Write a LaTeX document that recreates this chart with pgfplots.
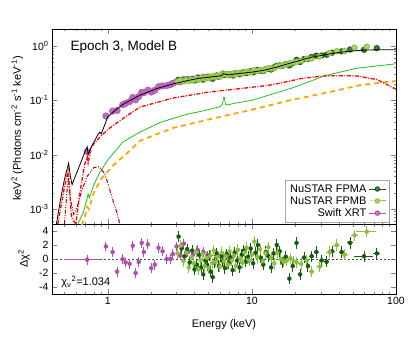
\documentclass[border=0pt]{standalone}
\usepackage{fontspec}
\setmainfont{Liberation Sans}
\usepackage{pgfplots}
\pgfplotsset{compat=1.18}
\definecolor{fpma}{HTML}{145A14}
\definecolor{fpmb}{HTML}{8CBF3C}
\definecolor{xrt}{HTML}{B04EB0}
\definecolor{mgreen}{HTML}{1EC01E}
\definecolor{morange}{HTML}{FFA500}
\definecolor{mdred}{HTML}{B40000}
\begin{document}
\begin{tikzpicture}
\useasboundingbox (-52pt,-52pt) rectangle (363pt,294pt);
% residual panel
\begin{axis}[at={(0pt,0pt)}, anchor=south west,
  scale only axis, width=344pt, height=70pt,
  xmode=log, xmin=0.41, xmax=100,
  tick align=inside, major tick length=5pt, minor tick length=2.5pt,
  axis line style={line width=0.8pt},
  xtick={1,10,100},
  minor xtick={0.5,0.6,0.7,0.8,0.9,2,3,4,5,6,7,8,9,20,30,40,50,60,70,80,90},
  tick label style={font=\fontsize{10.5}{12}\selectfont},
  label style={font=\fontsize{11}{13}\selectfont},
  ymin=-5, ymax=5, ytick={-4,-2,0,2,4}, yticklabels={-4,-2,0,2,4},
  xticklabels={1,10,100},
  xlabel={Energy (keV)},
  xlabel style={at={(axis description cs:0.5,-0.44)}, anchor=center},
  ylabel={Δχ\textsuperscript{2}},
  ylabel style={at={(axis description cs:-0.081,0.5)}, anchor=center},
]
\addplot[gray!60!black, line width=1pt, dash pattern=on 2pt off 2pt, forget plot] coordinates {(0.41,0) (100,0)};
% Swift XRT
\addplot[xrt, only marks, mark=none, forget plot,
    error bars/.cd, x dir=both, x explicit, y dir=both, y explicit,
    error mark=none, error bar style={line width=1pt}]
  table[x=x, y=y, x error plus=xp, x error minus=xm, y error=ey] {
x y xp xm ey
0.72 -0.1 0.20 0.22 0.7
};
\addplot[xrt, only marks, mark=none, forget plot,
    error bars/.cd, x dir=both, x explicit, y dir=both, y explicit,
    error mark=none, error bar style={line width=1pt}]
  table[x=x, y=y, x error=ex, y error=ey] {
x y ex ey
0.97 1.8 0.03 0.7
1.08 1.0 0.03 0.7
1.16 -1.8 0.03 0.7
1.27 0.0 0.03 0.7
1.33 -0.5 0.03 0.7
1.42 -0.7 0.03 0.7
1.49 1.9 0.03 0.7
1.56 -2.0 0.03 0.7
1.64 -0.4 0.04 0.7
1.72 2.3 0.04 0.7
1.78 1.0 0.04 0.7
1.90 2.1 0.04 0.7
2.00 -1.3 0.05 0.7
2.12 -0.8 0.05 0.7
2.25 1.6 0.05 0.7
2.40 1.1 0.06 0.7
2.57 0.0 0.07 0.7
2.73 0.0 0.07 0.7
2.83 0.7 0.07 0.7
3.00 1.8 0.08 0.7
3.17 0.5 0.08 0.7
3.37 2.2 0.09 0.7
3.60 1.0 0.10 0.7
3.90 0.6 0.12 0.7
4.20 1.3 0.15 0.7
4.60 1.0 0.18 0.7
4.90 0.5 0.2 0.7
5.70 0.5 0.6 0.7
6.30 0.5 0.35 0.7
7.00 0.2 0.4 0.7
};
% FPMA
\addplot[fpma, only marks, mark=none, forget plot,
    error bars/.cd, x dir=both, x explicit, y dir=both, y explicit,
    error mark=none, error bar style={line width=1pt}]
  table[x=x, y=y, x error=ex, y error=ey] {
x y ex ey
3.1 3.2 0.07 0.8
3.25 1.5 0.07 0.8
3.4 0.4 0.07 0.8
3.55 1.4 0.07 0.8
3.7 -0.5 0.07 0.8
3.85 1.2 0.07 0.8
4.0 -1.5 0.07 0.8
4.15 -0.8 0.07 0.8
4.3 0.6 0.07 0.8
4.45 -1.2 0.07 0.8
4.6 -2.2 0.07 0.8
4.75 -0.2 0.07 0.8
4.9 -0.9 0.07 0.8
5.05 0.5 0.07 0.8
5.2 -1.8 0.07 0.8
5.35 -2.6 0.07 0.8
5.5 -0.5 0.08 0.8
5.7 0.8 0.1 0.8
5.9 -1.0 0.1 0.8
6.1 0.4 0.1 0.8
6.3 -0.3 0.1 0.8
6.5 -1.3 0.1 0.8
6.7 0.7 0.1 0.8
6.9 -0.6 0.1 0.8
7.1 0.2 0.12 0.8
7.35 -1.6 0.12 0.8
7.6 0.9 0.12 0.8
7.9 -0.2 0.15 0.8
8.2 -1.2 0.15 0.8
8.5 0.6 0.15 0.8
8.8 1.2 0.15 0.8
9.1 -0.4 0.15 0.8
9.4 0.3 0.2 0.8
9.8 1.5 0.2 0.8
10.2 -0.6 0.2 0.8
10.6 0.9 0.25 0.8
11.0 2.0 0.25 0.8
11.5 0.2 0.25 0.8
12.0 -0.8 0.3 0.8
12.5 1.0 0.3 0.8
13.0 0.4 0.3 0.8
13.6 -1.2 0.3 0.8
14.2 0.8 0.35 0.8
14.9 2.0 0.35 0.8
15.6 1.1 0.4 0.8
16.3 -0.5 0.4 0.8
17.2 0.3 0.45 0.8
18.2 -2.8 0.5 0.8
19.2 -1.0 0.5 0.8
20.4 2.3 0.6 0.8
21.6 -2.2 0.7 0.8
23.0 0.2 0.8 0.8
24.5 -1.0 0.9 0.8
26.0 0.4 1.0 0.8
28.0 1.0 1.2 0.8
30.5 -0.2 1.4 0.8
33.0 -0.4 1.5 0.8
36.0 1.1 1.8 0.8
42.0 1.0 2.0 0.8
48.0 2.3 2.5 0.8
60.0 0.4 9.0 0.8
73.6 0.8 4.0 0.8
};
% FPMB
\addplot[fpmb, only marks, mark=none, forget plot,
    error bars/.cd, x dir=both, x explicit, y dir=both, y explicit,
    error mark=none, error bar style={line width=1pt}]
  table[x=x, y=y, x error=ex, y error=ey] {
x y ex ey
3.05 0.8 0.07 0.8
3.2 1.9 0.07 0.8
3.35 -0.3 0.07 0.8
3.5 0.9 0.07 0.8
3.65 -1.2 0.07 0.8
3.8 0.3 0.07 0.8
3.95 -0.6 0.07 0.8
4.1 1.0 0.07 0.8
4.25 -1.5 0.07 0.8
4.4 -0.2 0.07 0.8
4.55 0.7 0.07 0.8
4.7 -1.0 0.07 0.8
4.85 0.2 0.07 0.8
5.0 -1.3 0.07 0.8
5.15 0.5 0.07 0.8
5.3 -0.6 0.07 0.8
5.45 1.2 0.07 0.8
5.6 -0.4 0.08 0.8
5.8 0.3 0.1 0.8
6.0 -1.1 0.1 0.8
6.2 0.9 0.1 0.8
6.4 -0.3 0.1 0.8
6.6 0.4 0.1 0.8
6.8 -0.8 0.1 0.8
7.0 1.1 0.12 0.8
7.25 -0.2 0.12 0.8
7.5 0.5 0.12 0.8
7.75 -1.0 0.12 0.8
8.0 1.3 0.15 0.8
8.3 0.1 0.15 0.8
8.6 -0.5 0.15 0.8
8.9 0.9 0.15 0.8
9.2 1.6 0.15 0.8
9.6 -0.2 0.2 0.8
10.0 0.6 0.2 0.8
10.4 2.5 0.2 0.8
10.9 0.3 0.25 0.8
11.4 1.4 0.25 0.8
11.9 -0.3 0.25 0.8
12.4 0.8 0.3 0.8
13.0 1.7 0.3 0.8
13.6 0.2 0.3 0.8
14.3 -0.6 0.35 0.8
15.0 0.9 0.35 0.8
15.8 0.0 0.4 0.8
16.6 -0.4 0.4 0.8
17.5 -0.2 0.45 0.8
18.5 0.1 0.5 0.8
19.5 -0.3 0.5 0.8
20.5 -0.5 0.6 0.8
22.0 -0.7 0.8 0.8
24.0 -0.2 1.0 0.8
26.0 -1.8 1.0 0.8
29.5 -1.1 1.5 0.8
34.6 1.0 1.8 0.8
38.8 2.0 2.0 0.8
44.0 0.6 2.5 0.8
51.6 3.4 3.0 0.8
62.6 3.9 10.0 0.8
};
\node[anchor=base west, font=\fontsize{11}{13}\selectfont] at (rel axis cs:0.017,0.12) {χ\textsubscript{ν}\textsuperscript{2}=1.034};
\end{axis}
% spectrum panel
\begin{axis}[at={(0pt,70pt)}, anchor=south west,
  scale only axis, width=344pt, height=195pt,
  xmode=log, xmin=0.41, xmax=100,
  ymode=log, ymin=5.3e-4, ymax=2.05,
  tick align=inside, major tick length=5pt, minor tick length=2.5pt,
  axis line style={line width=0.8pt},
  xtick={1,10,100}, xticklabels={},
  minor xtick={0.5,0.6,0.7,0.8,0.9,2,3,4,5,6,7,8,9,20,30,40,50,60,70,80,90},
  tick label style={font=\fontsize{10.5}{12}\selectfont},
  label style={font=\fontsize{11}{13}\selectfont},
  ytick={1e-3,1e-2,1e-1,1},
  yticklabels={10\textsuperscript{-3},10\textsuperscript{-2},10\textsuperscript{-1},10\textsuperscript{0}},
  minor ytick={6e-4,7e-4,8e-4,9e-4,2e-3,3e-3,4e-3,5e-3,6e-3,7e-3,8e-3,9e-3,2e-2,3e-2,4e-2,5e-2,6e-2,7e-2,8e-2,9e-2,0.2,0.3,0.4,0.5,0.6,0.7,0.8,0.9,2},
  ylabel={keV\textsuperscript{2} (Photons cm\textsuperscript{-2} s\textsuperscript{-1} keV\textsuperscript{-1})},
  ylabel style={at={(axis description cs:-0.101,0.49)}, anchor=center},
  legend cell align=right, legend plot pos=right,
  legend style={at={(rel axis cs:0.98,0.01)}, anchor=south east, draw=gray!70,
    font=\fontsize{11}{12}\selectfont, inner xsep=2.5pt, inner ysep=2pt, row sep=-1.2pt},
]
\addlegendimage{fpma, line width=1pt, mark=*, mark size=2.2pt, mark options={fill=fpma!75!white}}
\addlegendentry{NuSTAR FPMA}
\addlegendimage{fpmb, line width=1pt, mark=*, mark size=2.2pt, mark options={fill=fpmb!75!white}}
\addlegendentry{NuSTAR FPMB}
\addlegendimage{xrt, line width=1pt, mark=*, mark size=2.2pt, mark options={fill=xrt!75!white}}
\addlegendentry{Swift XRT}
% Swift XRT data
\addplot[only marks, forget plot, mark=*, mark size=3.3pt, xrt, mark options={fill=xrt!85!white, draw=xrt}] coordinates {
(0.72,0.0113) (0.97,0.0515) (1.08,0.0634) (1.16,0.065) (1.27,0.083) (1.33,0.088)
(1.42,0.095) (1.49,0.113) (1.56,0.102) (1.64,0.117) (1.72,0.140) (1.78,0.138)
(1.90,0.154) (2.00,0.142) (2.12,0.153) (2.25,0.178) (2.40,0.184) (2.57,0.186)
(2.73,0.195) (2.83,0.206) (3.00,0.222) (3.17,0.218) (3.37,0.242) (3.60,0.239)
(3.90,0.244) (4.20,0.261) (4.60,0.267) (4.90,0.268) (5.70,0.282) (6.30,0.306) (7.00,0.297)
};
% FPMA data
\addplot[only marks, forget plot, mark=*, mark size=2.7pt, fpma, mark options={fill=fpma!80!white, draw=fpma, line width=0.9pt}] coordinates {
(3.1,0.239) (3.25,0.233) (3.4,0.230) (3.55,0.241) (3.7,0.231) (3.85,0.248)
(4.0,0.232) (4.15,0.241) (4.3,0.255) (4.45,0.245) (4.6,0.240) (4.75,0.258)
(4.9,0.256) (5.05,0.270) (5.2,0.254) (5.35,0.250) (5.5,0.269) (5.7,0.283)
(5.9,0.271) (6.1,0.288) (6.3,0.297) (6.5,0.291) (6.7,0.303) (6.9,0.291)
(7.1,0.299) (7.35,0.286) (7.6,0.312) (7.9,0.307) (8.2,0.301) (8.5,0.321)
(8.8,0.329) (9.1,0.317) (9.4,0.327) (9.8,0.343) (10.2,0.326) (10.6,0.346)
(11.0,0.363) (11.5,0.350) (12.0,0.346) (12.5,0.374) (13.0,0.376) (13.6,0.369)
(14.2,0.403) (14.9,0.432) (15.6,0.438) (16.3,0.433) (17.2,0.463) (18.2,0.438)
(19.2,0.481) (20.4,0.554) (21.6,0.507) (23.0,0.573) (24.5,0.577) (26.0,0.627)
(28.0,0.662) (30.5,0.666) (33.0,0.690) (36.0,0.752) (42.0,0.795) (48.0,0.86)
(60.0,0.85) (73.6,0.91)
};
% FPMB data
\addplot[only marks, forget plot, mark=*, mark size=2.7pt, fpmb, mark options={fill=fpmb!70!white, draw=fpmb, line width=0.9pt}] coordinates {
(3.05,0.222) (3.2,0.233) (3.35,0.223) (3.5,0.236) (3.65,0.226) (3.8,0.240)
(3.95,0.238) (4.1,0.253) (4.25,0.238) (4.4,0.250) (4.55,0.261) (4.7,0.251)
(4.85,0.264) (5.0,0.255) (5.15,0.271) (5.3,0.265) (5.45,0.282) (5.6,0.271)
(5.8,0.280) (6.0,0.271) (6.2,0.300) (6.4,0.302) (6.6,0.304) (6.8,0.289)
(7.0,0.305) (7.25,0.297) (7.5,0.308) (7.75,0.298) (8.0,0.322) (8.3,0.314)
(8.6,0.311) (8.9,0.328) (9.2,0.337) (9.6,0.324) (10.0,0.336) (10.4,0.360)
(10.9,0.344) (11.4,0.362) (11.9,0.351) (12.4,0.370) (13.0,0.391) (13.6,0.385)
(14.3,0.389) (15.0,0.421) (15.8,0.429) (16.6,0.442) (17.5,0.462) (18.5,0.485)
(19.5,0.497) (20.5,0.512) (22.0,0.538) (24.0,0.583) (26.0,0.587) (29.5,0.638)
(34.6,0.74) (38.8,0.80) (44.0,0.80) (51.6,0.93) (62.6,0.97)
};
% orange dashed component
\addplot[forget plot, morange, line width=1.8pt, dash pattern=on 5pt off 4pt] coordinates {
(0.66,5e-4) (0.70,8e-4) (0.72,1.1e-3) (0.74,1.0e-3) (0.8,2e-3) (0.9,3.6e-3)
(1.1,6.5e-3) (1.38,0.011) (1.67,0.018) (2.83,0.031) (5.7,0.048) (10,0.067)
(18.3,0.1) (28,0.126) (40.7,0.156) (56,0.19) (90,0.22) (100,0.225)
};
% green component
\addplot[forget plot, mgreen, line width=0.8pt] coordinates {
(0.62,5.3e-4) (0.68,9e-4) (0.72,1.6e-3) (0.73,1.9e-3) (0.745,1.6e-3) (0.8,2.8e-3)
(0.88,4.7e-3) (1.0,8e-3) (1.27,0.017) (1.67,0.026) (2.3,0.039) (3.5,0.055)
(4.35,0.062) (6.0,0.076) (6.25,0.085) (6.35,0.112) (6.45,0.112) (6.55,0.085)
(6.8,0.082) (7.4,0.087) (10,0.1) (13.3,0.126) (19.2,0.17) (33,0.29) (54,0.39) (100,0.47)
};
% dark red component
\addplot[forget plot, mdred, line width=1pt, dash pattern=on 4pt off 1.5pt on 1pt off 1.5pt on 1pt off 1.5pt] coordinates {
(0.50,5.3e-4) (0.52,2e-3) (0.535,4e-3) (0.55,1.5e-3) (0.58,8e-4) (0.62,1.2e-3)
(0.66,2.2e-3) (0.72,4e-3) (0.80,5.8e-3) (0.87,6e-3) (0.95,4.5e-3) (1.0,3e-3)
(1.08,1.5e-3) (1.15,9e-4) (1.22,5e-4)
};
% red component
\addplot[forget plot, red, line width=1.3pt, dash pattern=on 4pt off 1.5pt on 1pt off 1.5pt] coordinates {
(0.45,5.3e-4) (0.50,2.5e-3) (0.53,5e-3) (0.545,2e-3) (0.56,7e-4) (0.6,5.3e-4)
(0.64,2e-3) (0.69,6.5e-3) (0.72,9e-3) (0.73,7e-3) (0.77,1.4e-2) (0.88,2.1e-2)
(1.0,0.029) (1.27,0.046) (1.67,0.075) (2.83,0.11) (4.87,0.14) (10.8,0.178)
(13.3,0.19) (18.3,0.225) (21.6,0.25) (31,0.28) (45,0.285) (54,0.28) (74,0.24) (100,0.16)
};
\node[anchor=base west, font=\fontsize{13.5}{16}\selectfont] at (rel axis cs:0.044,0.889) {Epoch 3, Model B};
\end{axis}
% total model, in an overlaid axis so that it lies above the data marks
\begin{axis}[at={(0pt,70pt)}, anchor=south west, hide axis,
  scale only axis, width=344pt, height=195pt,
  xmode=log, xmin=0.41, xmax=100,
  ymode=log, ymin=5.3e-4, ymax=2.05]
\addplot[black, line width=0.8pt] coordinates {
(0.44,5.3e-4) (0.47,1.5e-3) (0.50,3.5e-3) (0.535,7e-3) (0.55,4e-3) (0.565,2.8e-3)
(0.59,3.8e-3) (0.61,4.7e-3) (0.66,8e-3) (0.70,1.2e-2) (0.72,1.4e-2) (0.73,1.0e-2)
(0.76,1.3e-2) (0.80,1.7e-2) (0.86,2.4e-2) (0.88,2.6e-2) (0.90,2.4e-2) (0.93,3.0e-2)
(1.0,0.05) (1.1,0.062) (1.2,0.075) (1.3,0.087) (1.49,0.105) (1.67,0.124)
(2.2,0.165) (2.83,0.2) (3.7,0.235) (4.35,0.255) (5.0,0.265) (5.5,0.273)
(6.0,0.28) (6.2,0.29) (6.35,0.31) (6.5,0.305) (6.7,0.297) (7.0,0.295)
(8,0.31) (9,0.32) (10,0.33) (12,0.355) (15,0.41) (18.3,0.48) (20.5,0.52)
(23,0.57) (26,0.62) (30,0.665) (35,0.72) (40,0.76) (48,0.80) (60,0.84) (74,0.85) (100,0.85)
};
\end{axis}
\end{tikzpicture}
\end{document}
